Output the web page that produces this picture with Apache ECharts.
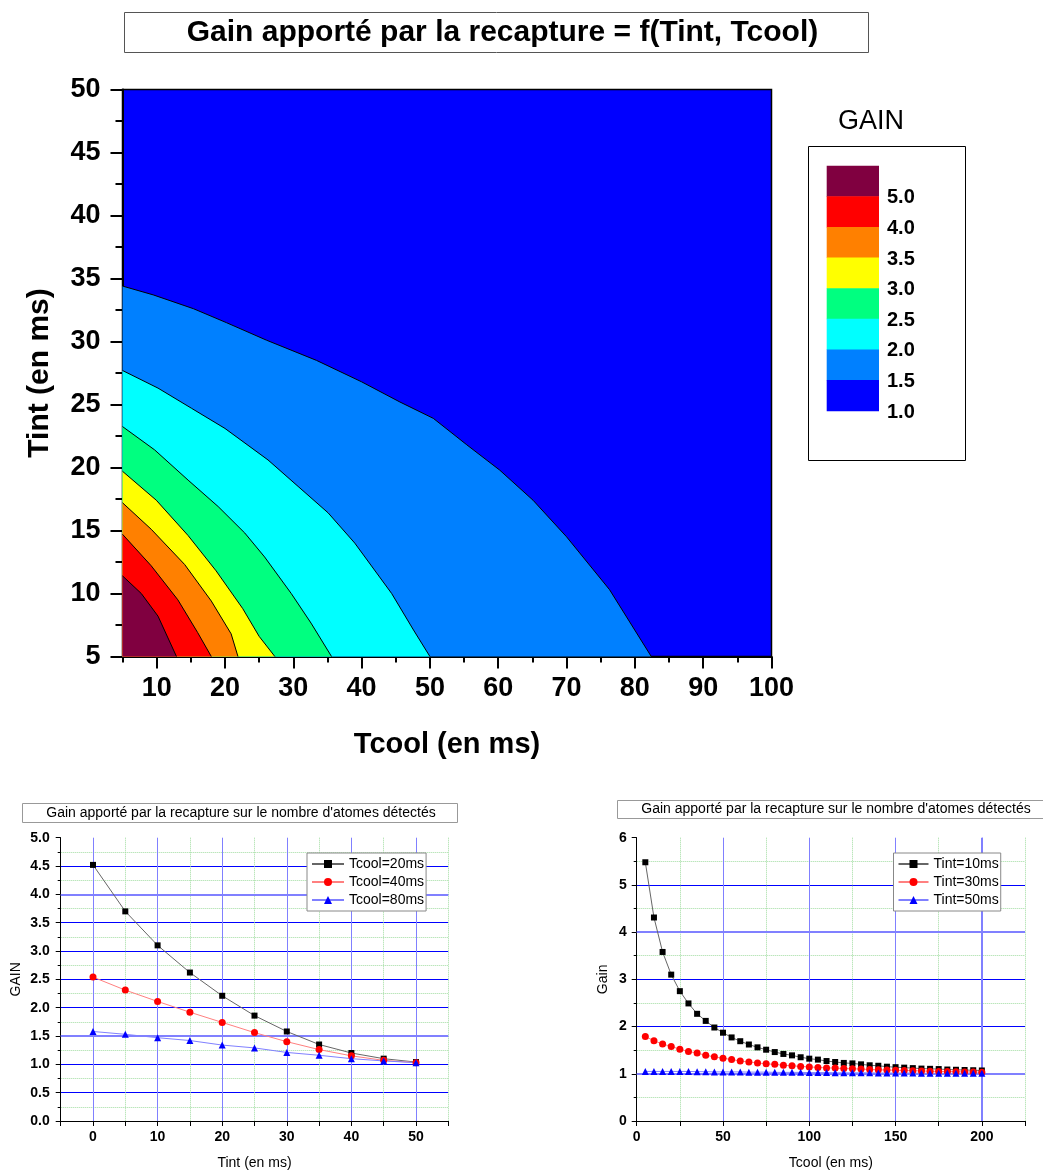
<!DOCTYPE html>
<html>
<head>
<meta charset="utf-8">
<script src="https://cdn.jsdelivr.net/npm/echarts@6/dist/echarts.min.js"></script>
<style>html,body{margin:0;padding:0;background:#fff}#c{width:1043px;height:1171px}</style>
</head>
<body>
<div id="c"></div>
<script>
// ---------- Contour chart data (boundary curves [Tcool, Tint]) ----------
const contour15 = [[5,34.4],[9.5,33.7],[15.4,32.6],[20.2,31.5],[26.1,30.1],[33.4,28.5],[40,26.8],[45.6,25.2],[50.5,23.9],[55.4,21.8],[60.2,19.8],[65.1,17.4],[70,14.5],[76.3,10.3],[82.4,5]];
const contour20 = [[5,27.7],[10.2,26.3],[15.1,24.7],[20,23.1],[26.3,20.6],[30.7,18.5],[35.1,16.4],[39,14.0],[44.4,10.0],[47.6,7.1],[50,5]];
const contour25 = [[5,23.25],[9.7,21.4],[14.6,19.0],[19.0,16.9],[22.9,14.8],[25.8,12.9],[29.7,10.0],[32.6,7.65],[35.6,5]];
const contour30 = [[5,19.7],[9.95,17.4],[14.6,14.6],[18.7,11.8],[22.6,8.8],[25.0,6.6],[27.3,5]];
const contour35 = [[5,17.2],[9.2,15.1],[14.1,12.3],[18.0,9.4],[20.9,6.8],[21.9,5]];
const contour40 = [[5,14.7],[9.2,12.2],[13.1,9.5],[16.0,6.9],[18.0,5]];
const contour50 = [[5,11.4],[7.75,10.0],[10.2,8.2],[12.9,5]];
const contourCurves = [contour15, contour20, contour25, contour30, contour35, contour40, contour50];
// band colours from lowest (1.0-1.5) to highest (>5.0)
const bandColors = ['#0000FF','#0080FF','#00FFFF','#00FF80','#FFFF00','#FF8000','#FF0000','#800040'];
const colorbarLabels = ['5.0','4.0','3.5','3.0','2.5','2.0','1.5','1.0'];
const mainXLabels = [10,20,30,40,50,60,70,80,90,100];

// ---------- Bottom-left chart: Gain vs Tint ----------
const tintValues = [0,5,10,15,20,25,30,35,40,45,50];
const gainTcool20 = [4.52,3.70,3.10,2.62,2.21,1.86,1.58,1.35,1.20,1.10,1.04];
const gainTcool40 = [2.54,2.31,2.11,1.92,1.74,1.56,1.40,1.26,1.15,1.07,1.03];
const gainTcool80 = [1.58,1.53,1.47,1.42,1.34,1.29,1.21,1.16,1.10,1.06,1.03];
const blHighlightY = [1.5, 4.0];

// ---------- Bottom-right chart: Gain vs Tcool ----------
const tcoolValues = [5,10,15,20,25,30,35,40,45,50,55,60,65,70,75,80,85,90,95,100,105,110,115,120,125,130,135,140,145,150,155,160,165,170,175,180,185,190,195,200];
const gainTint10 = [5.48,4.31,3.58,3.10,2.75,2.49,2.27,2.12,1.98,1.87,1.77,1.69,1.62,1.56,1.51,1.46,1.42,1.39,1.35,1.32,1.30,1.27,1.25,1.23,1.22,1.20,1.18,1.17,1.15,1.14,1.13,1.12,1.11,1.105,1.10,1.09,1.085,1.08,1.075,1.07];
const gainTint30 = [1.79,1.70,1.63,1.58,1.52,1.47,1.44,1.39,1.36,1.33,1.30,1.27,1.25,1.23,1.21,1.20,1.18,1.17,1.155,1.145,1.135,1.125,1.12,1.11,1.105,1.10,1.09,1.085,1.08,1.075,1.07,1.065,1.06,1.055,1.05,1.05,1.045,1.04,1.04,1.035];
const gainTint50 = [1.05,1.05,1.05,1.05,1.05,1.05,1.045,1.045,1.04,1.04,1.04,1.04,1.035,1.035,1.035,1.03,1.03,1.03,1.03,1.025,1.025,1.025,1.02,1.02,1.02,1.02,1.02,1.015,1.015,1.015,1.015,1.015,1.01,1.01,1.01,1.01,1.01,1.01,1.01,1.01];
const brHighlightY = [1, 4];
const brHighlightX = [200];

const FF = '"Liberation Sans", Arial, sans-serif';
const pair = (xs, ys) => xs.map((x, i) => [x, ys[i]]);
const T = 'rgba(0,0,0,0)';
const lav = '#8080ff';
const grn = '#a0dca0';

const chart = echarts.init(document.getElementById('c'));

// contour series
const contourSeries = contourCurves.map((curve, i) => ({
  type: 'line', xAxisIndex: 0, yAxisIndex: 0, data: curve,
  symbol: 'none', showSymbol: false, smooth: false,
  lineStyle: { color: '#000', width: 1 },
  areaStyle: { color: bandColors[i + 1], opacity: 1, origin: 'start' },
  silent: true, z: 2 + i
}));

// graphic: title boxes, colour bar legend
const graphic = [];
graphic.push({ type: 'rect', shape: { x: 124.5, y: 12.5, width: 744, height: 40 }, style: { fill: '#fff', stroke: '#555', lineWidth: 1 }, z: 1 });
graphic.push({ type: 'text', x: 502.5, y: 33, style: { text: 'Gain apporté par la recapture = f(Tint, Tcool)', fontSize: 30, fontWeight: 'bold', fontFamily: FF, fill: '#000', align: 'center', verticalAlign: 'middle' }, z: 2 });
graphic.push({ type: 'rect', shape: { x: 22.5, y: 803.5, width: 435, height: 19 }, style: { fill: '#fff', stroke: '#999', lineWidth: 1 }, z: 1 });
graphic.push({ type: 'text', x: 241, y: 813, style: { text: "Gain apporté par la recapture sur le nombre d'atomes détectés", fontSize: 14, fontFamily: FF, fill: '#000', align: 'center', verticalAlign: 'middle' }, z: 2 });
graphic.push({ type: 'rect', shape: { x: 617.5, y: 800.5, width: 440, height: 18 }, style: { fill: '#fff', stroke: '#999', lineWidth: 1 }, z: 1 });
graphic.push({ type: 'text', x: 836, y: 809.5, style: { text: "Gain apporté par la recapture sur le nombre d'atomes détectés", fontSize: 14, fontFamily: FF, fill: '#000', align: 'center', verticalAlign: 'middle' }, z: 2 });
// colour bar
graphic.push({ type: 'text', x: 871, y: 122, style: { text: 'GAIN', fontSize: 27, fontFamily: FF, fill: '#000', align: 'center', verticalAlign: 'middle' } });
graphic.push({ type: 'rect', shape: { x: 808.5, y: 146.5, width: 157, height: 314 }, style: { fill: '#fff', stroke: '#000', lineWidth: 1 } });
const cbTop = 165.7, cbH = 30.62, cbX = 826.7, cbW = 52.3;
bandColors.slice().reverse().forEach((c, i) => {
  graphic.push({ type: 'rect', shape: { x: cbX, y: cbTop + i * cbH, width: cbW, height: cbH + 0.5 }, style: { fill: c } });
});
colorbarLabels.forEach((t, i) => {
  graphic.push({ type: 'text', x: 887, y: cbTop + (i + 1) * cbH + 1.5, style: { text: t, fontSize: 20, fontWeight: 'bold', fontFamily: FF, fill: '#000', align: 'left', verticalAlign: 'middle' } });
});

const boldLbl = (size) => ({ fontSize: size, fontWeight: 'bold', fontFamily: FF, color: '#000' });
const hlLine = (key, vals, width) => ({
  silent: true, symbol: 'none', label: { show: false },
  lineStyle: { color: lav, width: width, type: 'solid' },
  data: vals.map(v => ({ [key]: v }))
});

const option = {
  animation: false,
  backgroundColor: '#fff',
  textStyle: { fontFamily: FF },
  grid: [
    { left: 122.5, top: 89.5, width: 649, height: 567, show: true, backgroundColor: bandColors[0], borderColor: '#000', borderWidth: 1.5, containLabel: false },
    { left: 60.7, top: 837.7, width: 387.6, height: 284, containLabel: false },
    { left: 636.7, top: 837.7, width: 388.3, height: 284, containLabel: false }
  ],
  xAxis: [
    { gridIndex: 0, type: 'value', min: 5, max: 100, interval: 5, position: 'bottom',
      axisLine: { onZero: false, lineStyle: { color: '#000', width: 2 } },
      axisTick: { length: 6, lineStyle: { color: '#000', width: 2 } },
      axisLabel: { ...boldLbl(27), margin: 19, formatter: v => (mainXLabels.indexOf(v) >= 0 ? String(v) : '') },
      splitLine: { show: false },
      name: 'Tcool (en ms)', nameLocation: 'middle', nameGap: 74, nameTextStyle: boldLbl(29) },
    { gridIndex: 0, type: 'value', min: 5, max: 100, interval: 5, position: 'bottom',
      axisLine: { show: false, onZero: false },
      axisTick: { show: true, length: 12, customValues: mainXLabels, lineStyle: { color: '#000', width: 2 } },
      axisLabel: { show: false }, splitLine: { show: false } },
    { gridIndex: 1, type: 'value', min: -5, max: 55, interval: 5, position: 'bottom',
      axisLine: { onZero: false, lineStyle: { color: '#000', width: 1 } },
      axisTick: { length: 5, lineStyle: { color: '#000' } },
      axisLabel: { ...boldLbl(14), margin: 9, formatter: v => (v >= 0 && v <= 50 && v % 10 === 0 ? String(v) : '') },
      splitLine: { show: true, lineStyle: { color: [T, lav], width: 1 } },
      name: 'Tint (en ms)', nameLocation: 'middle', nameGap: 35, nameTextStyle: { fontSize: 14, color: '#000', fontFamily: FF } },
    { gridIndex: 1, type: 'value', min: -5, max: 55, interval: 5, position: 'bottom',
      axisLine: { show: false, onZero: false }, axisTick: { show: false }, axisLabel: { show: false },
      splitLine: { show: true, lineStyle: { color: [grn, T], width: 1, type: 'dotted' } } },
    { gridIndex: 2, type: 'value', min: 0, max: 225, interval: 25, position: 'bottom',
      axisLine: { onZero: false, lineStyle: { color: '#000', width: 1 } },
      axisTick: { length: 5, lineStyle: { color: '#000' } },
      axisLabel: { ...boldLbl(14), margin: 9, formatter: v => (v <= 200 && v % 50 === 0 ? String(v) : '') },
      splitLine: { show: true, lineStyle: { color: [lav, T], width: 1 } },
      name: 'Tcool (en ms)', nameLocation: 'middle', nameGap: 35, nameTextStyle: { fontSize: 14, color: '#000', fontFamily: FF } },
    { gridIndex: 2, type: 'value', min: 0, max: 225, interval: 25, position: 'bottom',
      axisLine: { show: false, onZero: false }, axisTick: { show: false }, axisLabel: { show: false },
      splitLine: { show: true, lineStyle: { color: [T, grn], width: 1, type: 'dotted' } } }
  ],
  yAxis: [
    { gridIndex: 0, type: 'value', min: 5, max: 50, interval: 5,
      axisLine: { onZero: false, lineStyle: { color: '#000', width: 2 } },
      axisTick: { length: 12, lineStyle: { color: '#000', width: 2 } },
      minorTick: { show: true, splitNumber: 2, length: 7, lineStyle: { color: '#000', width: 2 } },
      axisLabel: { ...boldLbl(27), margin: 22 },
      splitLine: { show: false }, minorSplitLine: { show: false },
      name: 'Tint (en ms)', nameLocation: 'middle', nameGap: 68, nameTextStyle: boldLbl(30) },
    { gridIndex: 1, type: 'value', min: 0, max: 5, interval: 0.5,
      axisLine: { onZero: false, lineStyle: { color: '#000', width: 1 } },
      axisTick: { length: 5, lineStyle: { color: '#000' } },
      minorTick: { show: true, splitNumber: 2, length: 3, lineStyle: { color: '#000' } },
      axisLabel: { ...boldLbl(14), margin: 11, formatter: v => v.toFixed(1) },
      splitLine: { show: true, showMinLine: false, showMaxLine: false, lineStyle: { color: '#0000ff', width: 1 } },
      minorSplitLine: { show: true, lineStyle: { color: grn, width: 1, type: 'dotted' } },
      name: 'GAIN', nameLocation: 'middle', nameGap: 38, nameTextStyle: { fontSize: 14, color: '#000', fontFamily: FF } },
    { gridIndex: 2, type: 'value', min: 0, max: 6, interval: 1,
      axisLine: { onZero: false, lineStyle: { color: '#000', width: 1 } },
      axisTick: { length: 5, lineStyle: { color: '#000' } },
      minorTick: { show: true, splitNumber: 2, length: 3, lineStyle: { color: '#000' } },
      axisLabel: { ...boldLbl(14), margin: 10 },
      splitLine: { show: true, showMinLine: false, showMaxLine: false, lineStyle: { color: '#0000ff', width: 1 } },
      minorSplitLine: { show: true, lineStyle: { color: grn, width: 1, type: 'dotted' } },
      name: 'Gain', nameLocation: 'middle', nameGap: 27, nameTextStyle: { fontSize: 14, color: '#000', fontFamily: FF } }
  ],
  legend: [
    { data: ['Tcool=20ms', 'Tcool=40ms', 'Tcool=80ms'], orient: 'vertical', left: 307, top: 853,
      padding: [3, 2, 3, 4], itemWidth: 32, itemHeight: 10, itemGap: 2, selectedMode: false,
      textStyle: { fontSize: 14, color: '#000', fontFamily: FF, lineHeight: 16 },
      borderColor: '#888', borderWidth: 1, backgroundColor: '#fff', z: 10 },
    { data: ['Tint=10ms', 'Tint=30ms', 'Tint=50ms'], orient: 'vertical', left: 893.5, top: 853,
      padding: [3, 2, 3, 4], itemWidth: 30, itemHeight: 10, itemGap: 2, selectedMode: false,
      textStyle: { fontSize: 14, color: '#000', fontFamily: FF, lineHeight: 16 },
      borderColor: '#888', borderWidth: 1, backgroundColor: '#fff', z: 10 }
  ],
  graphic: graphic,
  series: contourSeries.concat([
    { name: 'Tcool=20ms', type: 'line', xAxisIndex: 2, yAxisIndex: 1, data: pair(tintValues, gainTcool20),
      symbol: 'rect', symbolSize: 6, itemStyle: { color: '#000' }, lineStyle: { color: '#666', width: 1 }, z: 5,
      markLine: hlLine('yAxis', blHighlightY, 2) },
    { name: 'Tcool=40ms', type: 'line', xAxisIndex: 2, yAxisIndex: 1, data: pair(tintValues, gainTcool40),
      symbol: 'circle', symbolSize: 7, itemStyle: { color: '#ff0000' }, lineStyle: { color: '#ff8080', width: 1 }, z: 5 },
    { name: 'Tcool=80ms', type: 'line', xAxisIndex: 2, yAxisIndex: 1, data: pair(tintValues, gainTcool80),
      symbol: 'triangle', symbolSize: 7, itemStyle: { color: '#0000ff' }, lineStyle: { color: '#8080ff', width: 1 }, z: 5 },
    { name: 'Tint=10ms', type: 'line', xAxisIndex: 4, yAxisIndex: 2, data: pair(tcoolValues, gainTint10),
      symbol: 'rect', symbolSize: 6, itemStyle: { color: '#000' }, lineStyle: { color: '#666', width: 1 }, z: 5,
      markLine: { silent: true, symbol: 'none', label: { show: false }, lineStyle: { color: lav, width: 2, type: 'solid' },
        data: brHighlightY.map(v => ({ yAxis: v })).concat(brHighlightX.map(v => ({ xAxis: v }))) } },
    { name: 'Tint=30ms', type: 'line', xAxisIndex: 4, yAxisIndex: 2, data: pair(tcoolValues, gainTint30),
      symbol: 'circle', symbolSize: 7, itemStyle: { color: '#ff0000' }, lineStyle: { color: '#ff8080', width: 1 }, z: 5 },
    { name: 'Tint=50ms', type: 'line', xAxisIndex: 4, yAxisIndex: 2, data: pair(tcoolValues, gainTint50),
      symbol: 'triangle', symbolSize: 7, itemStyle: { color: '#0000ff' }, lineStyle: { color: '#8080ff', width: 1 }, z: 5 }
  ])
};
chart.setOption(option);
</script>
</body>
</html>
